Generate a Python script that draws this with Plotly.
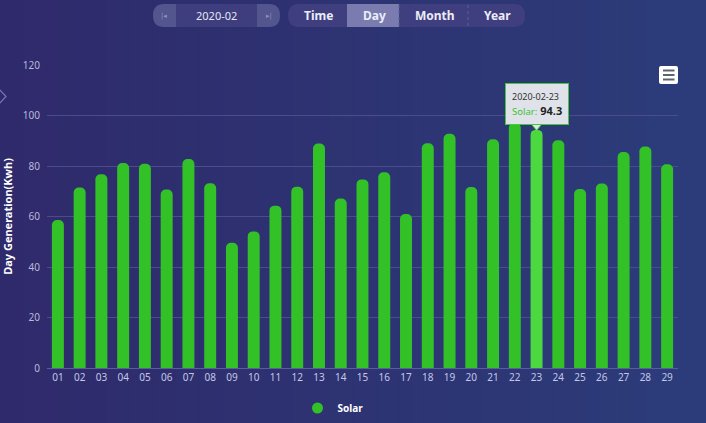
import plotly.graph_objects as go

# ---------------- data ----------------
days = [f"{d:02d}" for d in range(1, 30)]
solar = [58.6, 71.5, 76.7, 81.2, 80.9, 70.7, 82.8, 73.2, 49.6, 54.1,
         64.3, 71.8, 88.9, 67.1, 74.7, 77.5, 61.0, 89.0, 92.8, 71.7,
         90.6, 97.0, 94.3, 90.2, 70.9, 73.1, 85.5, 87.7, 80.7]
highlight_day = "23"
month_label = "2020-02"
y_ticks = [0, 20, 40, 60, 80, 100, 120]
buttons = ["Time", "Day", "Month", "Year"]
active_button = "Day"

# ---------------- layout geometry (pixels) ----------------
WIDTH, HEIGHT = 706, 423
L, R, T, B = 47, 28, 65, 55
PW = WIDTH - L - R
PH = HEIGHT - T - B
BOTTOM = HEIGHT - B


def px(x):
    return (x - L) / PW


def py(y):
    return (BOTTOM - y) / PH


def rrect(x0, y0, x1, y1, r):
    """rounded rectangle path in paper coords from pixel box"""
    pts = []
    pts.append(f"M {px(x0 + r)},{py(y0)}")
    pts.append(f"L {px(x1 - r)},{py(y0)}")
    pts.append(f"Q {px(x1)},{py(y0)} {px(x1)},{py(y0 + r)}")
    pts.append(f"L {px(x1)},{py(y1 - r)}")
    pts.append(f"Q {px(x1)},{py(y1)} {px(x1 - r)},{py(y1)}")
    pts.append(f"L {px(x0 + r)},{py(y1)}")
    pts.append(f"Q {px(x0)},{py(y1)} {px(x0)},{py(y1 - r)}")
    pts.append(f"L {px(x0)},{py(y0 + r)}")
    pts.append(f"Q {px(x0)},{py(y0)} {px(x0 + r)},{py(y0)}")
    pts.append("Z")
    return " ".join(pts)


def rect_path(x0, y0, x1, y1):
    return (f"M {px(x0)},{py(y0)} L {px(x1)},{py(y0)} L {px(x1)},{py(y1)} "
            f"L {px(x0)},{py(y1)} Z")


def lerp_color(c0, c1, t):
    a = [int(c0[i:i + 2], 16) for i in (1, 3, 5)]
    b = [int(c1[i:i + 2], 16) for i in (1, 3, 5)]
    return "#" + "".join(f"{round(a[k] + (b[k] - a[k]) * t):02x}" for k in range(3))


shapes = []
annotations = []

# background gradient (vertical strips)
N = 60
for i in range(N):
    x0 = WIDTH * i / N - 0.5
    x1 = WIDTH * (i + 1) / N + 0.6
    shapes.append(dict(type="path", xref="paper", yref="paper",
                       path=rect_path(x0, -2, x1, HEIGHT + 2),
                       fillcolor=lerp_color("#2f2a6b", "#2c3c7a", i / (N - 1)),
                       line=dict(width=0), layer="below"))

# left chevron
shapes.append(dict(type="path", xref="paper", yref="paper",
                   path=f"M {px(-1)},{py(89)} L {px(6)},{py(96.5)} L {px(-1)},{py(104)}",
                   line=dict(color="#7b76b4", width=1.2), layer="above"))

# month selector pill
shapes.append(dict(type="path", xref="paper", yref="paper",
                   path=rrect(153, 4, 280, 27, 11.5),
                   fillcolor="#3e3d7d", line=dict(width=0), layer="above"))
shapes.append(dict(type="path", xref="paper", yref="paper",
                   path=(f"M {px(164.5)},{py(4)} L {px(176)},{py(4)} L {px(176)},{py(27)} "
                         f"L {px(164.5)},{py(27)} Q {px(153)},{py(27)} {px(153)},{py(15.5)} "
                         f"Q {px(153)},{py(4)} {px(164.5)},{py(4)} Z"),
                   fillcolor="#53558f", line=dict(width=0), layer="above"))
shapes.append(dict(type="path", xref="paper", yref="paper",
                   path=(f"M {px(257)},{py(4)} L {px(268.5)},{py(4)} Q {px(280)},{py(4)} {px(280)},{py(15.5)} "
                         f"Q {px(280)},{py(27)} {px(268.5)},{py(27)} L {px(257)},{py(27)} Z"),
                   fillcolor="#53558f", line=dict(width=0), layer="above"))
annotations.append(dict(xref="paper", yref="paper", x=px(216.5), y=py(15.5),
                        xanchor="center", yanchor="middle",
                        text=month_label, showarrow=False,
                        font=dict(family="Noto Sans", size=11, color="#e6e6f5")))
annotations.append(dict(xref="paper", yref="paper", x=px(164), y=py(15.5),
                        xanchor="center", yanchor="middle",
                        text="|◂", showarrow=False,
                        font=dict(family="DejaVu Sans", size=7, color="#8f90b8")))
annotations.append(dict(xref="paper", yref="paper", x=px(269), y=py(15.5),
                        xanchor="center", yanchor="middle",
                        text="▸|", showarrow=False,
                        font=dict(family="DejaVu Sans", size=7, color="#8f90b8")))

# segmented buttons
shapes.append(dict(type="path", xref="paper", yref="paper",
                   path=rrect(288, 4, 525, 27, 11.5),
                   fillcolor="#3f3f7f", line=dict(width=0), layer="above"))
seg_bounds = [(288, 347), (347, 399), (399, 468), (468, 525)]
for name, (a, b) in zip(buttons, seg_bounds):
    if name == active_button:
        shapes.append(dict(type="path", xref="paper", yref="paper",
                           path=rect_path(a, 4, b, 27),
                           fillcolor="#7a7cb0", line=dict(width=0), layer="above"))
    annotations.append(dict(xref="paper", yref="paper", x=px((a + b) / 2 + 1), y=py(15.5),
                            xanchor="center", yanchor="middle",
                            text=f"<b>{name}</b>", showarrow=False,
                            font=dict(family="Noto Sans", size=12, color="#ececf8")))
for sx in (399, 468):
    shapes.append(dict(type="line", xref="paper", yref="paper",
                       x0=px(sx), x1=px(sx), y0=py(5), y1=py(26),
                       line=dict(color="#5c5e98", width=1, dash="dot"), layer="above"))

# hamburger icon
shapes.append(dict(type="path", xref="paper", yref="paper",
                   path=rrect(659, 66, 678, 84, 2),
                   fillcolor="#ffffff", line=dict(width=0), layer="above"))
for ly in (70.5, 75, 79.5):
    shapes.append(dict(type="line", xref="paper", yref="paper",
                       x0=px(663), x1=px(674.5), y0=py(ly), y1=py(ly),
                       line=dict(color="#5d6370", width=2), layer="above"))

# ---------------- traces ----------------
colors = ["#4cd93f" if d == highlight_day else "#33c128" for d in days]
fig = go.Figure()
fig.add_trace(go.Bar(x=days, y=solar, marker=dict(color=colors, cornerradius=6,
                                                  line=dict(width=0)),
                     width=0.55, showlegend=False, name="Solar"))
fig.add_trace(go.Scatter(x=[None], y=[None], mode="markers", name="<b>Solar</b>",
                         marker=dict(color="#33c128", size=11, symbol="circle")))

# tooltip (category index used to avoid numeric-string ambiguity)
hi_idx = days.index(highlight_day)
hi_val = solar[hi_idx]
annotations.append(dict(
    x=hi_idx, y=hi_val, xref="x", yref="y", showarrow=False,
    xanchor="center", yanchor="bottom", yshift=5, align="left",
    text=(f"<span style='font-size:9px;color:#333'>2020-02-{highlight_day}</span><br>"
          f"<span style='font-size:9.5px;color:#3cc233'>Solar:</span> "
          f"<b><span style='font-size:11px;color:#222'>{hi_val}</span></b>"),
    font=dict(family="Noto Sans", size=11.5, color="#333"),
    bgcolor="#dfe2e9", bordercolor="#43c93a", borderwidth=1, borderpad=6))
shapes.append(dict(type="path", xref="x", yref="y", xsizemode="pixel", ysizemode="pixel",
                   xanchor=hi_idx, yanchor=hi_val,
                   path="M -5,5.5 L 5,5.5 L 0,-0.5 Z",
                   fillcolor="#dfe2e9", line=dict(color="#43c93a", width=1), layer="above"))
shapes.append(dict(type="line", xref="x", yref="y", xsizemode="pixel", ysizemode="pixel",
                   xanchor=hi_idx, yanchor=hi_val,
                   x0=-4.5, x1=4.5, y0=6, y1=6,
                   line=dict(color="#dfe2e9", width=1.5), layer="above"))

fig.update_layout(
    width=WIDTH, height=HEIGHT,
    margin=dict(l=L, r=R, t=T, b=B, autoexpand=False),
    paper_bgcolor="#2e3372", plot_bgcolor="rgba(0,0,0,0)",
    font=dict(family="Noto Sans", color="#c3c3e0"),
    shapes=shapes, annotations=annotations,
    bargap=0.45,
    legend=dict(orientation="h", x=px(333), xanchor="center", y=py(408), yanchor="middle",
                font=dict(size=10, color="#ffffff", family="Noto Sans"),
                bgcolor="rgba(0,0,0,0)", itemwidth=30),
    xaxis=dict(type="category", showgrid=False, ticks="", showline=True,
               linecolor="#5a5c9c", linewidth=1, automargin=False,
               tickfont=dict(size=10, color="#c6c6e6"), zeroline=False),
    yaxis=dict(range=[0, 120], tickvals=y_ticks, showgrid=True, gridcolor="#4a4c8e",
               gridwidth=1, zeroline=False, ticks="", ticklabelstandoff=6, automargin=False,
               tickfont=dict(size=10, color="#b9b9dc"),
               title=dict(text="<b>Day Generation(Kwh)</b>", standoff=14,
                          font=dict(size=11, color="#ffffff"))),
)
fig.update_traces(hoverinfo="skip")
fig.write_html("out.html")
